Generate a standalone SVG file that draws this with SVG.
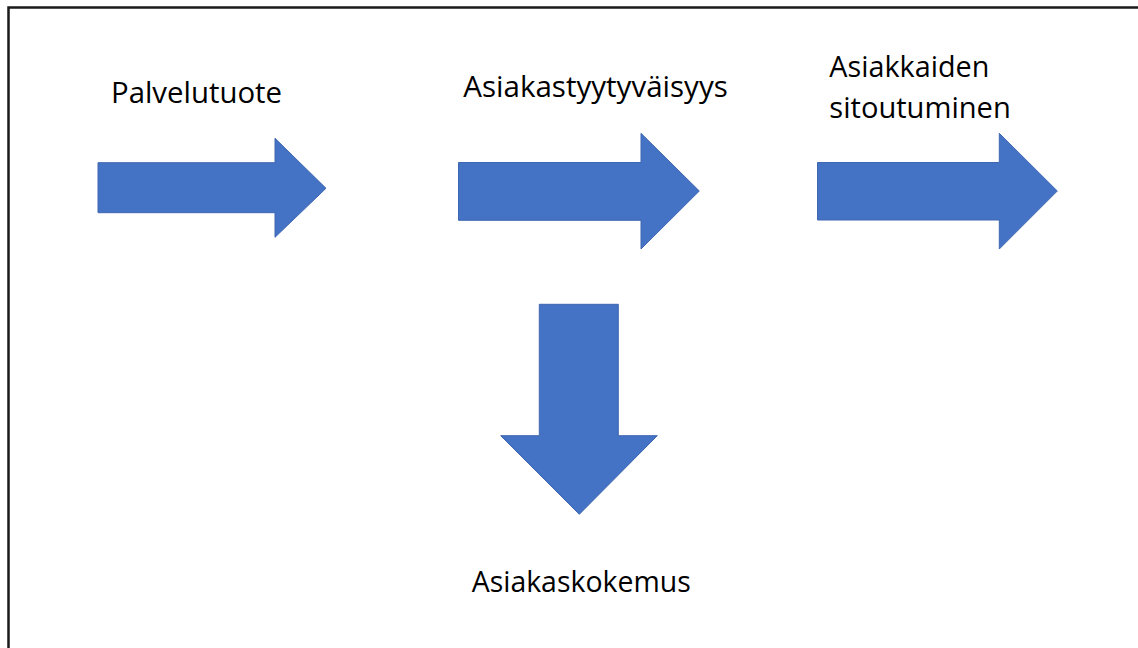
<svg xmlns="http://www.w3.org/2000/svg" width="1138" height="648" viewBox="0 0 1138 648">
<style>
.arrow{fill:#4472C4;stroke:#3F67B0;stroke-width:1}
.lbl{font-family:"Open Sans","Liberation Sans",Arial,sans-serif;font-size:28.5px;fill:#000}
.frame{fill:none;stroke:#1a1a1a;stroke-width:2.5}
</style>
<rect width="1138" height="648" fill="#fff"/>
<path class="frame" d="M8.5,648 V7.5 H1138"/>
<g id="n-palvelutuote">
<polygon class="arrow" points="98,162.7 275,162.7 275,138.3 326,188.3 275,237.3 275,212.7 98,212.7"/>
<text class="lbl" x="111" y="103.3" textLength="171" lengthAdjust="spacingAndGlyphs">Palvelutuote</text>
</g>
<g id="n-asiakastyytyvaisyys">
<polygon class="arrow" points="458.5,162.5 641,162.5 641,133.3 699.3,191 641,249 641,220.3 458.5,220.3"/>
<text class="lbl" x="463.3" y="97" textLength="264.5" lengthAdjust="spacingAndGlyphs">Asiakastyytyväisyys</text>
</g>
<g id="n-sitoutuminen">
<polygon class="arrow" points="817.5,162.5 999.3,162.5 999.3,133.3 1057.3,191 999.3,249 999.3,220 817.5,220"/>
<text class="lbl" x="829.3" y="76.7" textLength="160" lengthAdjust="spacingAndGlyphs">Asiakkaiden</text>
<text class="lbl" x="829.3" y="117.7" textLength="181.5" lengthAdjust="spacingAndGlyphs">sitoutuminen</text>
</g>
<g id="n-asiakaskokemus">
<polygon class="arrow" points="539.3,304.3 618.3,304.3 618.3,435.7 657.3,435.7 579.3,514.3 500.7,435.7 539.3,435.7"/>
<text class="lbl" x="471.7" y="591.7" textLength="219" lengthAdjust="spacingAndGlyphs">Asiakaskokemus</text>
</g>
<g id="connectors"></g>
</svg>
